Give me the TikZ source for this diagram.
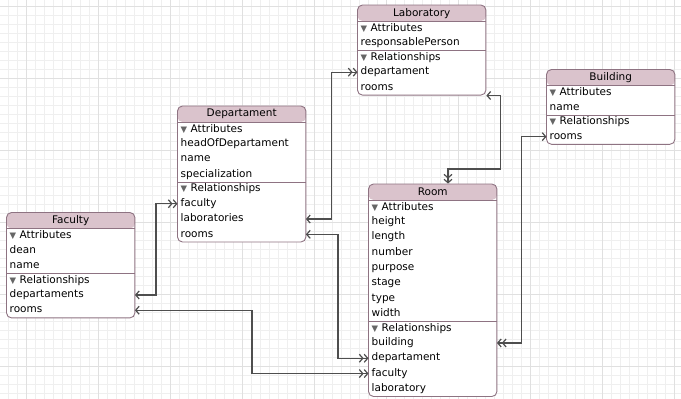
\documentclass[tikz,border=0pt]{standalone}
\usepackage{fontspec}
\setmainfont{DejaVu Sans}
\usepackage{xcolor}
\usepackage{tikz}
\usetikzlibrary{positioning,fit,backgrounds,arrows.meta}
\definecolor{cdborder}{HTML}{8E7382}
\definecolor{cdtitle}{HTML}{DAC3CC}
\definecolor{cdlink}{HTML}{4E4E4E}
\definecolor{cdtri}{HTML}{666666}
\definecolor{gridminor}{HTML}{EFEFEF}
\definecolor{gridmajor}{HTML}{E0E0E0}
\newcommand{\entfont}{\fontsize{10.5}{12}\selectfont}
\newcommand{\disclose}{{\color{cdtri}\fontsize{8.5}{8.5}\selectfont ▼}}
\tikzset{
    barb/.tip={Straight Barb[length=3.5pt,width=8pt]},
    entity/.style={draw=cdborder, fill=white, rounded corners=5pt,
        inner sep=0pt, line width=0.9pt,
        path picture={\fill[cdtitle] (path picture bounding box.north west)
            rectangle ([yshift=-16pt]path picture bounding box.north east);}},
    enttitle/.style={minimum width=128pt, minimum height=16pt,
        inner sep=0pt, anchor=north west, font=\entfont},
    attr/.style={text width=122pt, inner xsep=3pt, inner ysep=0pt,
        minimum height=14.9pt, text height=7.6pt, text depth=2.2pt,
        align=left, font=\entfont},
    section/.style={attr, minimum height=13.5pt},
    sepline/.style={draw=cdborder, line width=0.9pt},
    link/.style={draw=cdlink, line width=1.2pt, arrows={barb-{barb[]barb[]}}},
}

\begin{document}
\begin{tikzpicture}[x=1pt, y=-1pt, node distance=0pt]

    \useasboundingbox (0,0) rectangle (681,399);

    % ── Grid ───────────────────────────────────────────────────────────────
    \begin{scope}[on background layer]
        \fill[white] (0,0) rectangle (681,399);
        \foreach \gx in {-0.5,8.5,...,681}
            \draw[gridminor, line width=1pt] (\gx,0) -- (\gx,399);
        \foreach \gy in {-2.5,6.5,...,399}
            \draw[gridminor, line width=1pt] (0,\gy) -- (681,\gy);
        \foreach \gx in {26.5,98.5,...,681}
            \draw[gridmajor, line width=1pt] (\gx,0) -- (\gx,399);
        \foreach \gy in {6.5,78.5,...,399}
            \draw[gridmajor, line width=1pt] (0,\gy) -- (681,\gy);
    \end{scope}

    % ── Faculty ────────────────────────────────────────────────────────────
    \node[enttitle] (faculty-title) at (6.5,212.5) {Faculty};
    \node[section, below=of faculty-title] (faculty-attr) {\disclose\ Attributes};
    \node[attr, below=of faculty-attr] (faculty-dean) {dean};
    \node[attr, below=of faculty-dean] (faculty-name) {name};
    \node[section, below=of faculty-name] (faculty-rel) {\disclose\ Relationships};
    \node[attr, below=of faculty-rel] (faculty-departaments) {departaments};
    \node[attr, below=of faculty-departaments] (faculty-rooms) {rooms};
    \begin{scope}[on background layer]
        \node[entity, fit=(faculty-title)(faculty-rooms)] (faculty) {};
    \end{scope}
    \draw[sepline] (faculty-title.south west) -- (faculty-title.south east);
    \draw[sepline] (faculty-rel.north west) -- (faculty-rel.north east);

    % ── Departament ────────────────────────────────────────────────────────
    \node[enttitle] (departament-title) at (177.5,106) {Departament};
    \node[section, below=of departament-title] (departament-attr) {\disclose\ Attributes};
    \node[attr, below=of departament-attr] (departament-head) {headOfDepartament};
    \node[attr, below=of departament-head] (departament-name) {name};
    \node[attr, below=of departament-name] (departament-spec) {specialization};
    \node[section, below=of departament-spec] (departament-rel) {\disclose\ Relationships};
    \node[attr, below=of departament-rel] (departament-faculty) {faculty};
    \node[attr, below=of departament-faculty] (departament-laboratories) {laboratories};
    \node[attr, below=of departament-laboratories] (departament-rooms) {rooms};
    \begin{scope}[on background layer]
        \node[entity, fit=(departament-title)(departament-rooms)] (departament) {};
    \end{scope}
    \draw[sepline] (departament-title.south west) -- (departament-title.south east);
    \draw[sepline] (departament-rel.north west) -- (departament-rel.north east);

    % ── Laboratory ─────────────────────────────────────────────────────────
    \node[enttitle] (laboratory-title) at (357.5,5) {Laboratory};
    \node[section, below=of laboratory-title] (laboratory-attr) {\disclose\ Attributes};
    \node[attr, below=of laboratory-attr] (laboratory-person) {responsablePerson};
    \node[section, below=of laboratory-person] (laboratory-rel) {\disclose\ Relationships};
    \node[attr, below=of laboratory-rel] (laboratory-departament) {departament};
    \node[attr, below=of laboratory-departament] (laboratory-rooms) {rooms};
    \begin{scope}[on background layer]
        \node[entity, fit=(laboratory-title)(laboratory-rooms)] (laboratory) {};
    \end{scope}
    \draw[sepline] (laboratory-title.south west) -- (laboratory-title.south east);
    \draw[sepline] (laboratory-rel.north west) -- (laboratory-rel.north east);

    % ── Building ───────────────────────────────────────────────────────────
    \node[enttitle] (building-title) at (546.5,69.5) {Building};
    \node[section, below=of building-title] (building-attr) {\disclose\ Attributes};
    \node[attr, below=of building-attr] (building-name) {name};
    \node[section, below=of building-name] (building-rel) {\disclose\ Relationships};
    \node[attr, below=of building-rel] (building-rooms) {rooms};
    \begin{scope}[on background layer]
        \node[entity, fit=(building-title)(building-rooms)] (building) {};
    \end{scope}
    \draw[sepline] (building-title.south west) -- (building-title.south east);
    \draw[sepline] (building-rel.north west) -- (building-rel.north east);

    % ── Room ───────────────────────────────────────────────────────────────
    \node[enttitle] (room-title) at (368.5,184) {Room};
    \node[section, below=of room-title] (room-attr) {\disclose\ Attributes};
    \node[attr, below=of room-attr] (room-height) {height};
    \node[attr, below=of room-height] (room-length) {length};
    \node[attr, below=of room-length] (room-number) {number};
    \node[attr, below=of room-number] (room-purpose) {purpose};
    \node[attr, below=of room-purpose] (room-stage) {stage};
    \node[attr, below=of room-stage] (room-type) {type};
    \node[attr, below=of room-type] (room-width) {width};
    \node[section, below=of room-width] (room-rel) {\disclose\ Relationships};
    \node[attr, below=of room-rel] (room-building) {building};
    \node[attr, below=of room-building] (room-departament) {departament};
    \node[attr, below=of room-departament] (room-faculty) {faculty};
    \node[attr, below=of room-faculty] (room-laboratory) {laboratory};
    \begin{scope}[on background layer]
        \node[entity, fit=(room-title)(room-laboratory)] (room) {};
    \end{scope}
    \draw[sepline] (room-title.south west) -- (room-title.south east);
    \draw[sepline] (room-rel.north west) -- (room-rel.north east);

    % ── Relationship links ─────────────────────────────────────────────────
    \coordinate (facdep-x) at (156,0);
    \coordinate (facroom-x) at (252,0);
    \coordinate (deplab-x) at (331.5,0);
    \coordinate (deproom-x) at (338,0);
    \coordinate (labroom-a) at (500.5,169);
    \coordinate (labroom-b) at (448,169);
    \coordinate (bldroom-x) at (521.5,0);

    \draw[link] (faculty-departaments.east) -- (faculty-departaments.east -| facdep-x)
        |- (departament-faculty.west);
    \draw[link] (faculty-rooms.east) -- (faculty-rooms.east -| facroom-x)
        |- (room-faculty.west);
    \draw[link] (departament-laboratories.east) -- (departament-laboratories.east -| deplab-x)
        |- (laboratory-departament.west);
    \draw[link] (departament-rooms.east) -- (departament-rooms.east -| deproom-x)
        |- (room-departament.west);
    \draw[link] (laboratory.south east) -| (labroom-a) -- (labroom-b)
        -- (labroom-b |- room.north);
    \draw[link] (building-rooms.west) -- (building-rooms.west -| bldroom-x)
        |- (room-building.east);

\end{tikzpicture}
\end{document}
